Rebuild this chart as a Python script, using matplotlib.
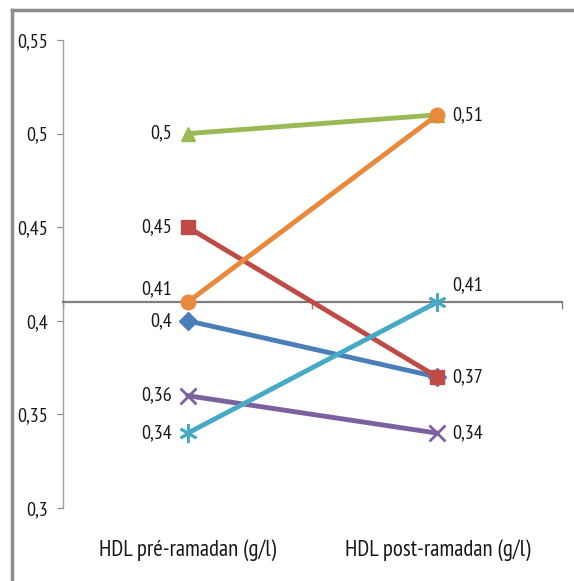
import matplotlib
matplotlib.use("Agg")
import matplotlib.pyplot as plt
from matplotlib.ticker import FuncFormatter, FixedLocator
from matplotlib.lines import Line2D

# narrow font to look like the Excel (Calibri, squeezed) text
plt.rcParams['font.family'] = ['PT Sans Narrow', 'Roboto Condensed', 'DejaVu Sans']

# données
categories = ["HDL pré-ramadan (g/l)", "HDL post-ramadan (g/l)"]
blue = [0.40, 0.37]
red = [0.45, 0.37]
green = [0.50, 0.51]
purple = [0.36, 0.34]
cyan = [0.34, 0.41]
orange = [0.41, 0.51]

# which value labels are shown (pre, post)
show_blue = [True, False]
show_red = [True, True]
show_green = [True, False]
show_purple = [True, True]
show_cyan = [True, True]
show_orange = [True, True]

series = [
    (blue, show_blue, "#4A7EBB", "D", 9.5),
    (red, show_red, "#BE4B48", "s", 10.5),
    (green, show_green, "#98B954", "^", 10.5),
    (purple, show_purple, "#7D60A0", "x", 11),
    (cyan, show_cyan, "#46AAC5", (6, 2, 0), 13),
    (orange, show_orange, "#E8893B", "o", 10.5),
]

fig = plt.figure(figsize=(5.74, 5.81), dpi=100)
ax = fig.add_axes([0.1098, 0.1256, 0.8692, 0.8056])

x = list(range(len(categories)))


def fmt(v):
    return f"{v:g}".replace(".", ",")


for vals, show, col, mk, ms in series:
    ax.plot(x, vals, color=col, lw=3.5, marker=mk, ms=ms, mew=2 if mk in ("x", (6, 2, 0)) else 1,
            mec=col, mfc=col, solid_capstyle="round", clip_on=False, zorder=3)
    for i, v in enumerate(vals):
        if not show[i]:
            continue
        # labels sitting on the 0.41 axis line go above
        above = abs(v - 0.41) < 1e-9
        if i == 0:
            ax.annotate(fmt(v), (i, v), xytext=(-11.5, 9 if above else 0), textcoords="offset points",
                        ha="right", va="center", fontsize=14.5, color="#1A1A1A")
        else:
            ax.annotate(fmt(v), (i, v), xytext=(11, 12 if above else 0),
                        textcoords="offset points", ha="left", va="center", fontsize=14.5, color="#1A1A1A")

ax.set_xlim(-0.5, 1.5)
ax.set_ylim(0.3, 0.55)
ax.yaxis.set_major_locator(FixedLocator([0.3, 0.35, 0.4, 0.45, 0.5, 0.55]))
ax.yaxis.set_major_formatter(FuncFormatter(lambda v, p: fmt(round(v, 2))))
ax.tick_params(axis="y", direction="out", length=4, color="#868686", labelsize=14.5,
               labelcolor="#1A1A1A", pad=6.5)

ax.spines["top"].set_visible(False)
ax.spines["right"].set_visible(False)
ax.spines["left"].set_color("#A0A0A0")
ax.spines["left"].set_linewidth(1)
ax.spines["bottom"].set_position(("data", 0.41))
ax.spines["bottom"].set_color("#7F7F7F")
ax.spines["bottom"].set_linewidth(1.6)

ax.set_xticks([-0.5, 0.5, 1.5])
ax.set_xticklabels([])
ax.tick_params(axis="x", direction="out", length=5, color="#7F7F7F", width=1)

for i, c in enumerate(categories):
    ax.text(i, -0.09, c, transform=ax.get_xaxis_transform(), ha="center", va="center",
            fontsize=16.5, color="#1A1A1A")

# chart border (left and top only visible)
fig.add_artist(Line2D([0.021, 0.021], [0, 0.983], color="#8C8C8C", lw=2.5))
fig.add_artist(Line2D([0.021, 1], [0.983, 0.983], color="#8C8C8C", lw=2.5))

fig.savefig("out.png", dpi=100)
